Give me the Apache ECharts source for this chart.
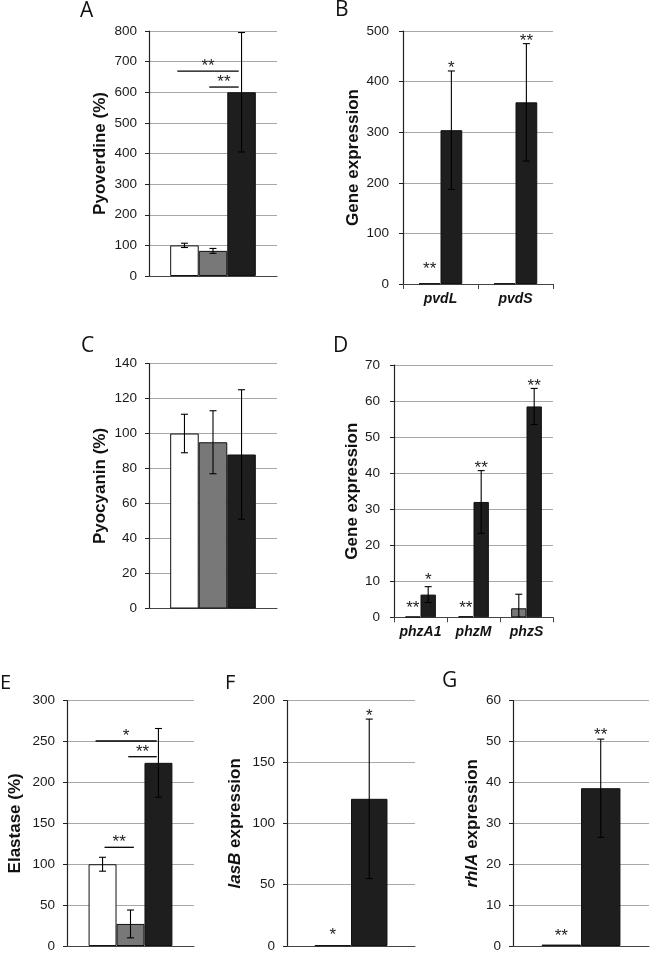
<!DOCTYPE html>
<html><head><meta charset="utf-8">
<script src="https://cdn.jsdelivr.net/npm/echarts@6/dist/echarts.min.js"></script>
<style>html,body{margin:0;padding:0;background:#fff}#c{width:650px;height:953px}</style>
</head><body><div id="c"></div><script>
// ---------------- DATA ----------------
// Panel A: Pyoverdine (%) – three strains (white, gray, black)
const catA = [''];
const pyoverdine = [100, 82, 600];
const pyoverdineErr = [7, 8, 195];
const bracketsA = [[-0.25, 1.9, 669, '**'], [0.87, 1.9, 617, '**']]; // [fromSlot, toSlot, y, text]

// Panel B: pvd gene expression (gray, black)
const catB = ['pvdL', 'pvdS'];
const pvdGray = [1, 1];
const pvdBlack = [304, 359];
const pvdBlackErr = [117, 116];
const starsB = [[0, 0, 24, '**'], [0, 1, 421, '*'], [1, 1, 475, '**']]; // [cat, slot, y, text]

// Panel C: Pyocyanin (%)
const catC = [''];
const pyocyanin = [100, 95, 88];
const pyocyaninErr = [11, 18, 37];

// Panel D: phz gene expression
const catD = ['phzA1', 'phzM', 'phzS'];
const phzGray = [0.2, 0.3, 2.5];
const phzGrayErr = [0, 0, 3.9];
const phzBlack = [6.3, 32, 58.5];
const phzBlackErr = [2.2, 8.7, 5];
const starsD = [[0, 0, 1.75, '**'], [0, 1, 9.5, '*'], [1, 0, 1.75, '**'], [1, 1, 40.7, '**'], [2, 1, 63.5, '**']];

// Panel E: Elastase (%)
const catE = [''];
const elastase = [100, 27, 224];
const elastaseErr = [8.5, 17, 42];
const bracketsE = [[-0.25, 1.94, 250.7, '*'], [0.92, 1.94, 231.5, '**'], [0.07, 1.12, 120.7, '**']];

// Panel F: lasB expression
const catF = [''];
const lasBGray = [0.6];
const lasBBlack = [120];
const lasBBlackErr = [65];
const starsF = [[0, 0, 6.3, '*'], [0, 1, 185, '*']];

// Panel G: rhlA expression
const catG = [''];
const rhlAGray = [0.35];
const rhlABlack = [38.6];
const rhlABlackErr = [12];
const starsG = [[0, 0, 1.7, '**'], [0, 1, 51, '**']];

// Axis ticks
const ticksA = { max: 800, step: 100 };
const ticksB = { max: 500, step: 100 };
const ticksC = { max: 140, step: 20 };
const ticksD = { max: 70, step: 10 };
const ticksE = { max: 300, step: 50 };
const ticksF = { max: 200, step: 50 };
const ticksG = { max: 60, step: 10 };

// ---------------- STYLE / LAYOUT ----------------
const FONT = '"Liberation Sans", Arial, Helvetica, sans-serif';
const COL = { white: '#ffffff', gray: '#787878', black: '#1e1e1e' };
const option = { animation: false, backgroundColor: '#fff', grid: [], xAxis: [], yAxis: [], series: [], graphic: [] };

function errorRender(n, frac) {
  return function (params, api) {
    const cat = api.value(0), v = api.value(1), e = api.value(2), slot = api.value(3);
    if (!e) return null;
    const bw = api.size([1, 0])[0] * frac;
    const off = (slot - (n - 1) / 2) * bw;
    const lo = v - e;
    const t = api.coord([cat, v + e]);
    const b = api.coord([cat, Math.max(0, lo)]);
    const x = t[0] + off, c = 3.5;
    const st = { stroke: '#000', lineWidth: 1.1 };
    const ch = [
      { type: 'line', shape: { x1: x, y1: t[1], x2: x, y2: b[1] }, style: st },
      { type: 'line', shape: { x1: x - c, y1: t[1], x2: x + c, y2: t[1] }, style: st }
    ];
    if (lo > 0) ch.push({ type: 'line', shape: { x1: x - c, y1: b[1], x2: x + c, y2: b[1] }, style: st });
    return { type: 'group', children: ch };
  };
}
function starRender(n, frac, stars) {
  return function (params, api) {
    const s = stars[params.dataIndex];
    const bw = api.size([1, 0])[0] * frac;
    const p = api.coord([s[0], s[2]]);
    const x = p[0] + (s[1] - (n - 1) / 2) * bw;
    return { type: 'text', style: { text: s[3], x: x, y: p[1] + 6, align: 'center', verticalAlign: 'bottom', fontFamily: FONT, fontSize: 17, fill: '#222' } };
  };
}
function bracketRender(n, frac, br) {
  return function (params, api) {
    const s = br[params.dataIndex];
    const bw = api.size([1, 0])[0] * frac;
    const p = api.coord([0, s[2]]);
    const x1 = p[0] + (s[0] - (n - 1) / 2) * bw, x2 = p[0] + (s[1] - (n - 1) / 2) * bw;
    return { type: 'group', children: [
      { type: 'line', shape: { x1: x1, y1: p[1], x2: x2, y2: p[1] }, style: { stroke: '#000', lineWidth: 1.3 } },
      { type: 'text', style: { text: s[3], x: (x1 + x2) / 2, y: p[1] + 4, align: 'center', verticalAlign: 'bottom', fontFamily: FONT, fontSize: 17, fill: '#222' } }
    ] };
  };
}

function addPanel(p) {
  const i = option.grid.length;
  option.grid.push({ left: p.box[0], top: p.box[1], width: p.box[2], height: p.box[3], containLabel: false });
  option.xAxis.push({
    gridIndex: i, type: 'category', data: p.cats,
    axisLine: { show: true, lineStyle: { color: '#444', width: 1 } },
    axisTick: { show: p.ticks, length: 5, lineStyle: { color: '#444' } },
    axisLabel: { show: p.ticks, interval: 0, hideOverlap: false, margin: 8, fontFamily: FONT, fontSize: 14, fontWeight: 'bold', fontStyle: 'italic', color: '#111' },
    splitLine: { show: false }
  });
  option.yAxis.push({
    gridIndex: i, type: 'value', min: 0, max: p.axis.max, interval: p.axis.step,
    name: p.name, nameLocation: 'middle', nameGap: p.nameGap,
    nameTextStyle: { fontFamily: FONT, fontSize: 17, fontWeight: 'bold', color: '#111',
      rich: { it: { fontFamily: FONT, fontSize: 17, fontWeight: 'bold', fontStyle: 'italic', color: '#111' },
              n: { fontFamily: FONT, fontSize: 17, fontWeight: 'bold', color: '#111' } } },
    axisLine: { show: true, lineStyle: { color: '#222', width: 1.2 } },
    axisTick: { show: true, length: 4, lineStyle: { color: '#222' } },
    axisLabel: { margin: p.labelMargin, fontFamily: FONT, fontSize: 13.5, color: '#1a1a1a' },
    splitLine: { show: true, lineStyle: { color: '#a8a8a8', width: 1.2 } }
  });
  const n = p.series.length;
  const errData = [];
  p.series.forEach(function (s, k) {
    option.series.push({ type: 'bar', name: s.name, xAxisIndex: i, yAxisIndex: i, data: s.data,
      barWidth: (p.frac * 100) + '%', barGap: '0%',
      itemStyle: { color: s.color, borderColor: '#111', borderWidth: 1 }, z: 2 });
    if (s.err) s.data.forEach(function (v, j) { errData.push([j, v, s.err[j], k]); });
  });
  option.series.push({ type: 'custom', xAxisIndex: i, yAxisIndex: i, data: errData, renderItem: errorRender(n, p.frac), z: 5, silent: true });
  if (p.stars) option.series.push({ type: 'custom', xAxisIndex: i, yAxisIndex: i,
    data: p.stars.map(function (s) { return [s[0], s[2]]; }), renderItem: starRender(n, p.frac, p.stars), z: 6, silent: true });
  if (p.brackets) option.series.push({ type: 'custom', xAxisIndex: i, yAxisIndex: i,
    data: p.brackets.map(function (s) { return [0, s[2]]; }), renderItem: bracketRender(n, p.frac, p.brackets), z: 6, silent: true });
  option.graphic.push({ type: 'text', left: p.letter[0], top: p.letter[1],
    style: { text: p.letter[2], font: p.letter[3] + 'px "Open Sans", sans-serif', fill: '#111' } });
}

addPanel({ box: [149, 31, 128, 245], cats: catA, ticks: false, axis: ticksA, name: 'Pyoverdine (%)', nameGap: 40, labelMargin: 12, frac: 0.223,
  series: [{ name: 'White', data: [pyoverdine[0]], err: [pyoverdineErr[0]], color: COL.white },
           { name: 'Gray', data: [pyoverdine[1]], err: [pyoverdineErr[1]], color: COL.gray },
           { name: 'Black', data: [pyoverdine[2]], err: [pyoverdineErr[2]], color: COL.black }],
  brackets: bracketsA, letter: [80, 1, 'A', 21] });

addPanel({ box: [403, 31, 150, 253], cats: catB, ticks: true, axis: ticksB, name: 'Gene expression', nameGap: 41, labelMargin: 14, frac: 0.29,
  series: [{ name: 'Gray', data: pvdGray, color: COL.gray },
           { name: 'Black', data: pvdBlack, err: pvdBlackErr, color: COL.black }],
  stars: starsB, letter: [335, 0, 'B', 21] });

addPanel({ box: [149, 363.5, 128, 245], cats: catC, ticks: false, axis: ticksC, name: 'Pyocyanin (%)', nameGap: 40, labelMargin: 12, frac: 0.223,
  series: [{ name: 'White', data: [pyocyanin[0]], err: [pyocyaninErr[0]], color: COL.white },
           { name: 'Gray', data: [pyocyanin[1]], err: [pyocyaninErr[1]], color: COL.gray },
           { name: 'Black', data: [pyocyanin[2]], err: [pyocyaninErr[2]], color: COL.black }],
  letter: [81, 336, 'C', 21] });

addPanel({ box: [394, 365, 159, 252.3], cats: catD, ticks: true, axis: ticksD, name: 'Gene expression', nameGap: 33, labelMargin: 14, frac: 0.29,
  series: [{ name: 'Gray', data: phzGray, err: phzGrayErr, color: COL.gray },
           { name: 'Black', data: phzBlack, err: phzBlackErr, color: COL.black }],
  stars: starsD, letter: [333, 336, 'D', 21] });

addPanel({ box: [67, 700.7, 127, 245.3], cats: catE, ticks: false, axis: ticksE, name: 'Elastase (%)', nameGap: 43, labelMargin: 12, frac: 0.22,
  series: [{ name: 'White', data: [elastase[0]], err: [elastaseErr[0]], color: COL.white },
           { name: 'Gray', data: [elastase[1]], err: [elastaseErr[1]], color: COL.gray },
           { name: 'Black', data: [elastase[2]], err: [elastaseErr[2]], color: COL.black }],
  brackets: bracketsE, letter: [0, 673, 'E', 20] });

addPanel({ box: [287, 700.7, 128, 246], cats: catF, ticks: false, axis: ticksF, name: '{it|lasB}{n| expression}', nameGap: 43, labelMargin: 12, frac: 0.285,
  series: [{ name: 'Gray', data: lasBGray, color: COL.gray },
           { name: 'Black', data: lasBBlack, err: lasBBlackErr, color: COL.black }],
  stars: starsF, letter: [225, 673, 'F', 20] });

addPanel({ box: [513, 700.7, 136, 245.3], cats: catG, ticks: false, axis: ticksG, name: '{it|rhlA}{n| expression}', nameGap: 32, labelMargin: 12, frac: 0.29,
  series: [{ name: 'Gray', data: rhlAGray, color: COL.gray },
           { name: 'Black', data: rhlABlack, err: rhlABlackErr, color: COL.black }],
  stars: starsG, letter: [442, 671, 'G', 21] });

const chart = echarts.init(document.getElementById('c'), null, { renderer: 'canvas' });
chart.setOption(option);
</script></body></html>
